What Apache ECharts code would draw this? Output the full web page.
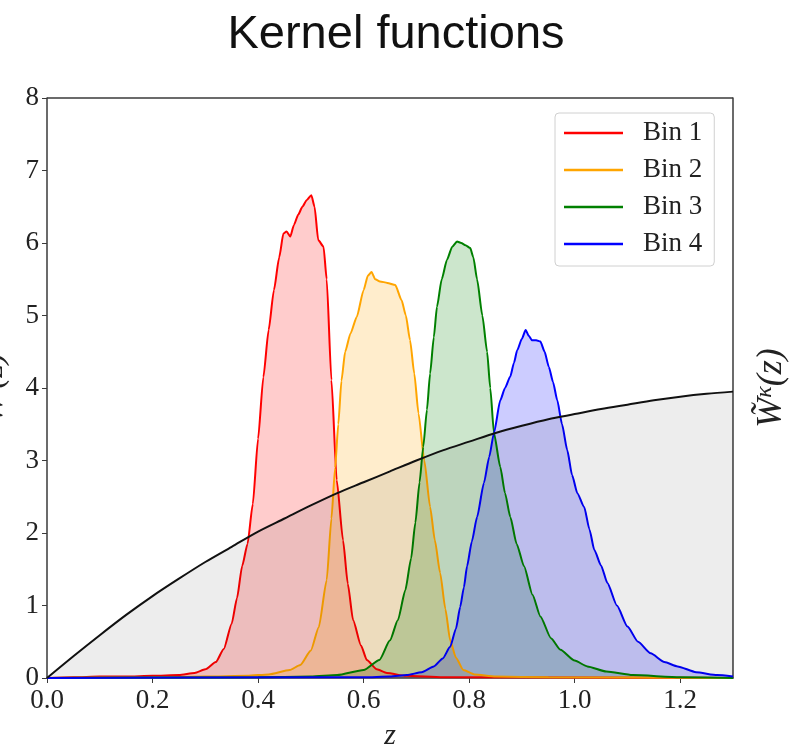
<!DOCTYPE html>
<html>
<head>
<meta charset="utf-8">
<script src="https://cdn.jsdelivr.net/npm/echarts@6/dist/echarts.min.js"></script>
<style>
  html, body { margin: 0; padding: 0; background: #fff; }
  #chart { width: 807px; height: 756px; }
</style>
</head>
<body>
<div id="chart"></div>
<script>
// Redshift grid and lensing efficiency (kernel) curve
const kernelZ = [0, 0.05, 0.1, 0.15, 0.2, 0.25, 0.3, 0.35, 0.4, 0.45, 0.5, 0.55, 0.6, 0.65,
  0.7, 0.75, 0.8, 0.85, 0.9, 0.95, 1.0, 1.05, 1.1, 1.15, 1.2, 1.25, 1.3];
const kernelW = [0, 0.30, 0.59, 0.87, 1.13, 1.37, 1.60, 1.81, 2.02, 2.20, 2.38, 2.55, 2.70, 2.85,
  3.00, 3.14, 3.26, 3.38, 3.48, 3.57, 3.64, 3.71, 3.77, 3.83, 3.88, 3.92, 3.95];

// Tomographic bin 1
const bin1Z = [0, 0.05, 0.1, 0.15, 0.2, 0.25, 0.28, 0.3, 0.32, 0.335, 0.35, 0.36, 0.37, 0.38, 0.39,
  0.4, 0.41, 0.42, 0.43, 0.44, 0.448, 0.454, 0.461, 0.468, 0.476, 0.484, 0.492, 0.501, 0.507,
  0.514, 0.524, 0.53, 0.539, 0.549, 0.561, 0.57, 0.58, 0.595, 0.606, 0.625, 0.644, 0.68, 0.75, 1.3];
const bin1W = [0, 0.01, 0.02, 0.02, 0.03, 0.04, 0.07, 0.12, 0.22, 0.4, 0.75, 1.1, 1.55, 1.85, 2.4,
  3.3, 4.15, 4.8, 5.35, 5.8, 6.13, 6.16, 6.09, 6.25, 6.39, 6.5, 6.59, 6.66, 6.5,
  6.04, 5.95, 5.5, 4.11, 2.73, 1.9, 1.3, 0.8, 0.45, 0.25, 0.12, 0.07, 0.03, 0.01, 0];

// Tomographic bin 2
const bin2Z = [0, 0.2, 0.3, 0.38, 0.42, 0.46, 0.48, 0.5, 0.515, 0.53, 0.539, 0.546, 0.552, 0.558,
  0.565, 0.575, 0.587, 0.6, 0.608, 0.615, 0.622, 0.631, 0.645, 0.66, 0.672, 0.68, 0.688, 0.696,
  0.704, 0.715, 0.726, 0.735, 0.745, 0.755, 0.764, 0.775, 0.789, 0.81, 0.85, 0.95, 1.3];
const bin2W = [0, 0.01, 0.02, 0.03, 0.05, 0.11, 0.18, 0.38, 0.7, 1.35, 2.2, 2.9, 3.5, 4.1,
  4.5, 4.75, 4.98, 5.35, 5.55, 5.6, 5.5, 5.47, 5.45, 5.42, 5.21, 5.0, 4.66, 4.2,
  3.65, 3.0, 2.36, 1.9, 1.45, 0.95, 0.52, 0.28, 0.11, 0.05, 0.02, 0.01, 0];

// Tomographic bin 3
const bin3Z = [0, 0.4, 0.5, 0.55, 0.6, 0.63, 0.65, 0.665, 0.679, 0.69, 0.698, 0.706, 0.713, 0.72,
  0.726, 0.733, 0.739, 0.748, 0.758, 0.768, 0.777, 0.785, 0.793, 0.802, 0.808, 0.815, 0.825,
  0.834, 0.84, 0.847, 0.859, 0.868, 0.878, 0.89, 0.904, 0.92, 0.935, 0.955, 0.973, 1.0, 1.024,
  1.06, 1.11, 1.2, 1.3];
const bin3W = [0, 0.01, 0.02, 0.04, 0.11, 0.25, 0.52, 0.8, 1.21, 1.65, 2.14, 2.7, 3.19, 3.7,
  4.2, 4.7, 5.12, 5.5, 5.77, 5.95, 6.02, 6.0, 5.97, 5.93, 5.8, 5.5, 5.0,
  4.5, 4.0, 3.38, 2.91, 2.55, 2.22, 1.85, 1.54, 1.15, 0.85, 0.55, 0.39, 0.24, 0.16,
  0.09, 0.04, 0.01, 0];

// Tomographic bin 4
const bin4Z = [0, 0.5, 0.6, 0.65, 0.682, 0.71, 0.733, 0.75, 0.764, 0.775, 0.783, 0.79, 0.796,
  0.805, 0.815, 0.828, 0.838, 0.847, 0.859, 0.868, 0.878, 0.885, 0.891, 0.9, 0.907, 0.913,
  0.919, 0.927, 0.935, 0.943, 0.951, 0.959, 0.967, 0.976, 0.986, 0.995, 1.005, 1.018, 1.028,
  1.037, 1.05, 1.062, 1.08, 1.1, 1.12, 1.144, 1.17, 1.195, 1.23, 1.27, 1.3];
const bin4W = [0, 0.01, 0.01, 0.02, 0.04, 0.08, 0.16, 0.27, 0.43, 0.68, 0.98, 1.25, 1.54,
  1.88, 2.22, 2.69, 3.05, 3.38, 3.83, 4.0, 4.16, 4.35, 4.52, 4.68, 4.80, 4.72,
  4.66, 4.66, 4.64, 4.5, 4.29, 4.08, 3.83, 3.5, 3.14, 2.8, 2.55, 2.36, 2.05,
  1.77, 1.55, 1.31, 1.0, 0.71, 0.5, 0.34, 0.22, 0.16, 0.08, 0.04, 0.02];

const binNames = ['Bin 1', 'Bin 2', 'Bin 3', 'Bin 4'];
const binColors = ['#ff0000', '#ffa500', '#008000', '#0000ff'];
const xTickValues = [0, 0.2, 0.4, 0.6, 0.8, 1.0, 1.2];

const pairs = (zs, ws) => zs.map((z, i) => [z, ws[i]]);
const binData = [pairs(bin1Z, bin1W), pairs(bin2Z, bin2W), pairs(bin3Z, bin3W), pairs(bin4Z, bin4W)];

const serif = 'Liberation Serif';
const axisGray = '#3a3a3a';

const chart = echarts.init(document.getElementById('chart'), null, { renderer: 'canvas' });

const binSeries = binNames.map((name, i) => ({
  name: name,
  type: 'line',
  data: binData[i],
  symbol: 'none',
  smooth: 0.2,
  smoothMonotone: 'x',
  color: binColors[i],
  lineStyle: { width: 2, color: binColors[i] },
  areaStyle: { color: binColors[i], opacity: 0.2, origin: 0 },
  z: 3
}));

chart.setOption({
  animation: false,
  backgroundColor: '#ffffff',
  title: {
    text: 'Kernel functions',
    left: 391,
    textAlign: 'center',
    top: 7,
    textStyle: { fontFamily: 'Liberation Sans', fontSize: 47, fontWeight: 'normal', color: '#111' }
  },
  legend: {
    data: binNames,
    orient: 'vertical',
    left: 555,
    top: 113,
    icon: 'rect',
    itemWidth: 59,
    itemHeight: 2.5,
    itemGap: 9,
    padding: [6, 12, 8, 9],
    backgroundColor: 'rgba(255,255,255,0.85)',
    borderColor: '#d0d0d0',
    borderWidth: 1,
    borderRadius: 4,
    textStyle: { fontFamily: serif, fontSize: 27, color: '#222', lineHeight: 28, padding: [0, 0, 0, 15] }
  },
  grid: { left: 47, right: 74, top: 98, bottom: 78, containLabel: false, outerBoundsMode: 'none' },
  xAxis: {
    type: 'value',
    min: 0,
    max: 1.3,
    interval: 0.2,
    name: 'z',
    nameLocation: 'middle',
    nameGap: 43,
    nameTextStyle: { fontFamily: serif, fontStyle: 'italic', fontSize: 30, color: '#222' },
    splitLine: { show: false },
    axisLine: { show: true, onZero: false, lineStyle: { color: axisGray, width: 1.5 } },
    axisTick: { show: true, inside: false, length: 5, customValues: xTickValues, lineStyle: { color: axisGray } },
    axisLabel: {
      customValues: xTickValues,
      formatter: v => v.toFixed(1),
      fontFamily: serif, fontSize: 27, color: '#222', margin: 9
    }
  },
  yAxis: [
    {
      type: 'value',
      min: 0,
      max: 8,
      interval: 1,
      name: '{w|W}{s|i}{w|(z)}',
      nameLocation: 'middle',
      nameGap: 36,
      nameRotate: 90,
      nameTextStyle: {
        rich: {
          w: { fontFamily: serif, fontStyle: 'italic', fontSize: 34, color: '#222' },
          s: { fontFamily: serif, fontStyle: 'italic', fontSize: 22, color: '#222', padding: [0, 0, 14, 0] }
        }
      },
      splitLine: { show: false },
      axisLine: { show: true, lineStyle: { color: axisGray, width: 1.5 } },
      axisTick: { show: true, inside: false, length: 5, lineStyle: { color: axisGray } },
      axisLabel: { fontFamily: serif, fontSize: 27, color: '#222', margin: 8 }
    },
    {
      type: 'value',
      min: 0,
      max: 8,
      interval: 1,
      position: 'right',
      name: '{w|W\u0303}{s|\u03ba}{w|(z)}',
      nameLocation: 'middle',
      nameGap: 20,
      nameRotate: 90,
      nameTextStyle: {
        rich: {
          w: { fontFamily: serif, fontStyle: 'italic', fontSize: 36, color: '#222' },
          s: { fontFamily: serif, fontStyle: 'italic', fontSize: 24, color: '#222', padding: [0, 0, 14, 0] }
        }
      },
      splitLine: { show: false },
      axisLine: { show: true, lineStyle: { color: axisGray, width: 1.5 } },
      axisTick: { show: false },
      axisLabel: { show: false }
    }
  ],
  series: [
    ...binSeries,
    {
      name: 'kernel',
      type: 'line',
      yAxisIndex: 1,
      data: pairs(kernelZ, kernelW),
      symbol: 'none',
      smooth: 0.3,
      color: '#000',
      lineStyle: { width: 2, color: '#111' },
      areaStyle: { color: 'rgba(0,0,0,0.1)', origin: 0 },
      z: 4
    }
  ],
  graphic: [
    {
      // upper frame line of the plotting area
      type: 'line',
      shape: { x1: 47, y1: 98, x2: 733, y2: 98 },
      style: { stroke: axisGray, lineWidth: 1.5 },
      z: 10
    }
  ]
});
</script>
</body>
</html>
